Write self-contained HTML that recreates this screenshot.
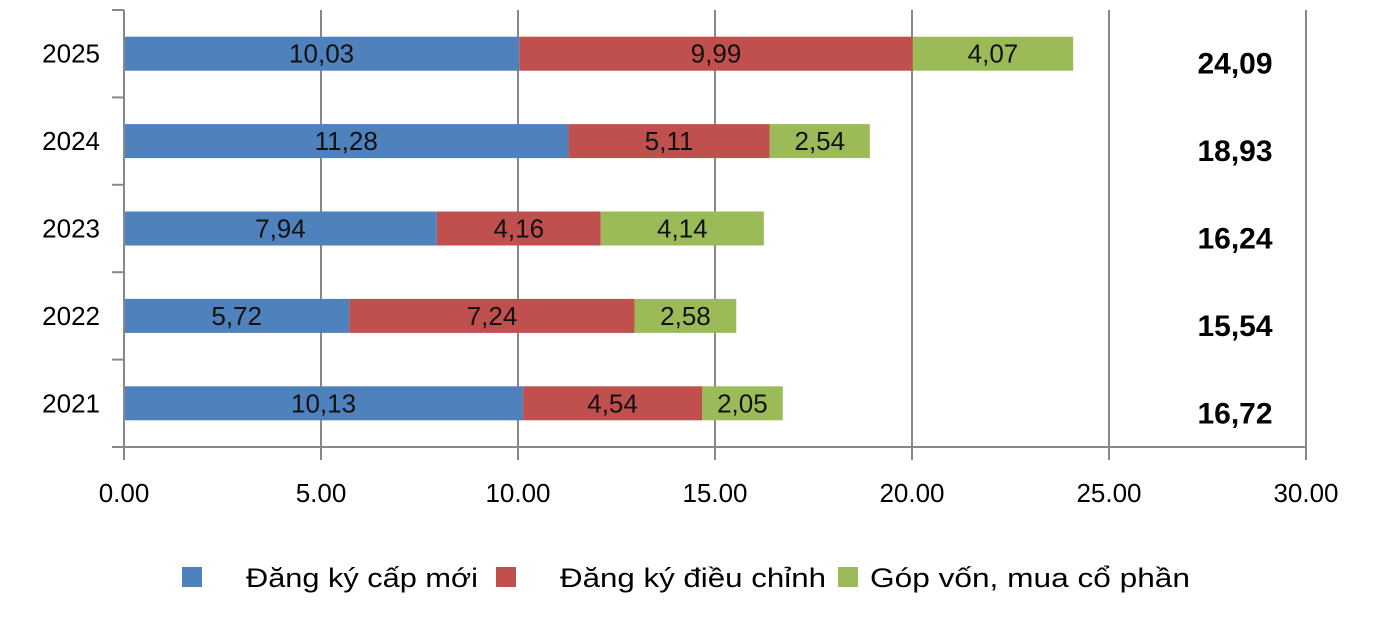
<!DOCTYPE html>
<html><head><meta charset="utf-8"><style>
body{margin:0;background:#fff;width:1400px;height:626px;overflow:hidden}
text{font-family:"Liberation Sans","DejaVu Sans",sans-serif}
</style></head><body>
<svg id="chart" width="1400" height="626" viewBox="0 0 1400 626" xmlns="http://www.w3.org/2000/svg">
<g id="grid"></g>
<g id="bars"></g>
<g id="axes"></g>
<g id="legend">
<rect x="182" y="567" width="20" height="20" fill="#4F81BD"/>
<text x="246" y="587" font-size="27" fill="#000" textLength="232" lengthAdjust="spacingAndGlyphs">Đăng ký cấp mới</text>
<rect x="496" y="567" width="20" height="20" fill="#C0504D"/>
<text x="560" y="587" font-size="27" fill="#000" textLength="266" lengthAdjust="spacingAndGlyphs">Đăng ký điều chỉnh</text>
<rect x="838" y="567" width="20" height="20" fill="#9BBB59"/>
<text x="870" y="587" font-size="27" fill="#000" textLength="320" lengthAdjust="spacingAndGlyphs">Góp vốn, mua cổ phần</text>
</g>
</svg>
<script>
const categories = ["2025","2024","2023","2022","2021"];
const newReg = [10.03, 11.28, 7.94, 5.72, 10.13];
const adjustReg = [9.99, 5.11, 4.16, 7.24, 4.54];
const capital = [4.07, 2.54, 4.14, 2.58, 2.05];
const totals = [24.09, 18.93, 16.24, 15.54, 16.72];
const xTicks = [0, 5, 10, 15, 20, 25, 30];
const NS = "http://www.w3.org/2000/svg";
const x0 = 124, x1 = 1306, xMax = 30;
const yTop = 10, yBottom = 447, band = (yBottom - yTop) / categories.length, barH = 34;
function xs(v){ return x0 + (v / xMax) * (x1 - x0); }
function yc(i){ return yTop + band * i + band / 2; }
function mk(tag, attrs, parent){ const e = document.createElementNS(NS, tag); for (const k in attrs) e.setAttribute(k, attrs[k]); parent.appendChild(e); return e; }
const grid = document.getElementById('grid'), bars = document.getElementById('bars'), axes = document.getElementById('axes');
xTicks.forEach((t) => {
  const l = mk('line', {x1: xs(t), x2: xs(t), y1: yTop, y2: yBottom + 13, stroke: '#888', 'stroke-width': 2}, grid);
  
  
  const tx = mk('text', {x: xs(t), y: 502, 'font-size': 26, 'text-anchor': 'middle', fill: '#000'}, axes);
  tx.textContent = t.toFixed(2);
  
  
});
const ax = mk('line', {x1: x0, x2: x1, y1: yBottom, y2: yBottom, stroke: '#888', 'stroke-width': 2}, axes);


const ay = mk('line', {x1: x0, x2: x0, y1: yTop, y2: yBottom + 13, stroke: '#888', 'stroke-width': 2}, axes);


for (let i = 0; i <= categories.length; i++) {
  const t = mk('line', {x1: x0 - 12, x2: x0, y1: yTop + band * i, y2: yTop + band * i, stroke: '#888', 'stroke-width': 2}, axes);
  
  
}
const series = [[newReg, '#4F81BD', 'bar-new'], [adjustReg, '#C0504D', 'bar-adjust'], [capital, '#9BBB59', 'bar-capital']];
categories.forEach((c, i) => {
  const yl = mk('text', {x: 100, y: yc(i) + 9, 'font-size': 26, 'text-anchor': 'end', fill: '#000'}, axes);
  yl.textContent = c;
  
  
  let acc = 0;
  series.forEach(([arr, col, nm]) => {
    const v = arr[i];
    const r = mk('rect', {x: xs(acc), y: yc(i) - barH / 2, width: xs(acc + v) - xs(acc), height: barH, fill: col}, bars);
    
    
    const lt = mk('text', {x: (xs(acc) + xs(acc + v)) / 2, y: yc(i) + 9, 'font-size': 26, 'text-anchor': 'middle', fill: '#111'}, bars);
    lt.textContent = v.toFixed(2).replace('.', ',');
    
    
    acc += v;
  });
  const tt = mk('text', {x: 1235, y: yc(i) + 20, 'font-size': 30, 'font-weight': 'bold', 'text-anchor': 'middle', fill: '#000'}, bars);
  tt.textContent = totals[i].toFixed(2).replace('.', ',');
  
  
});
</script>
</body></html>
